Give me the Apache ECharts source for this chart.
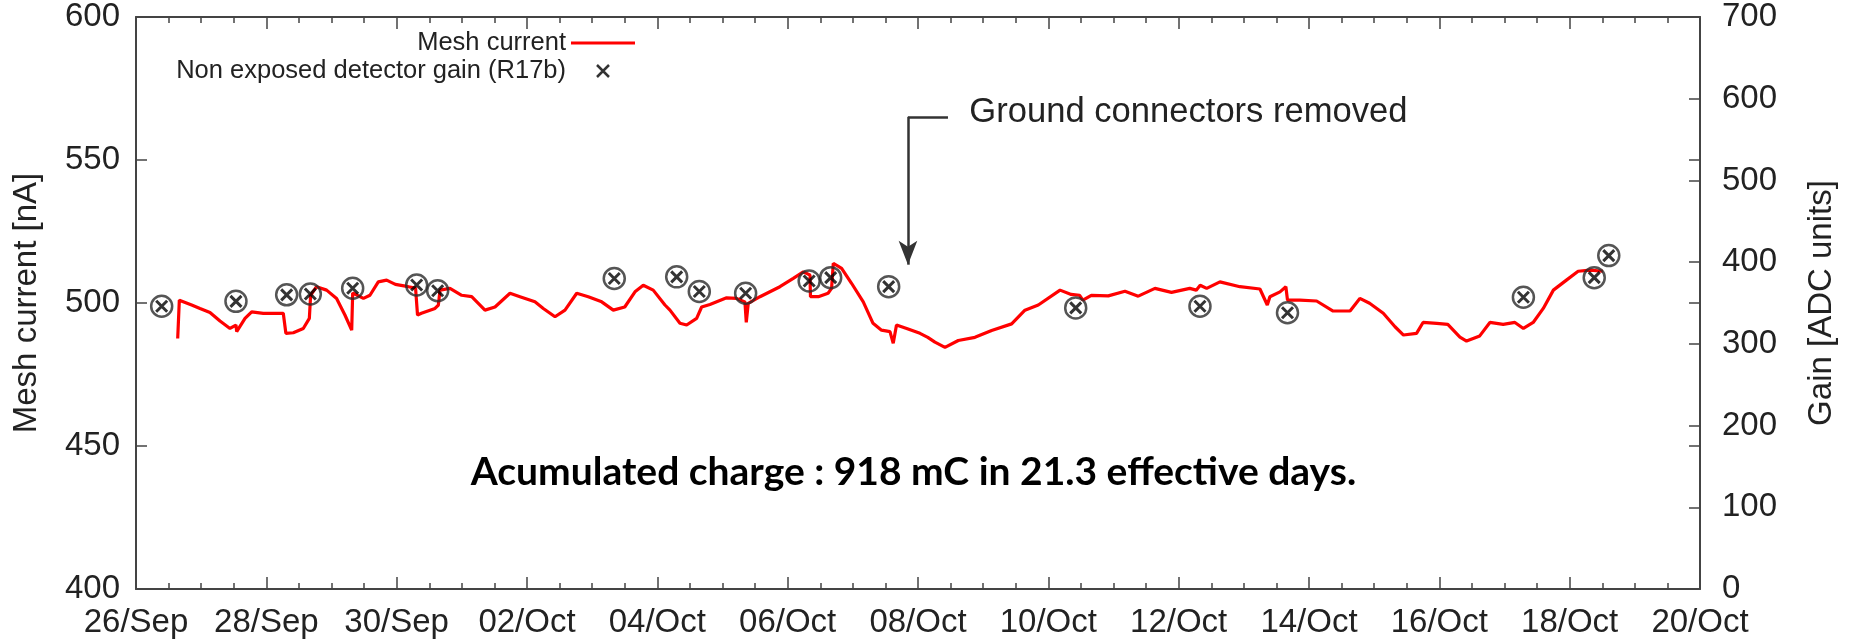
<!DOCTYPE html>
<html>
<head>
<meta charset="utf-8">
<script src="https://cdn.jsdelivr.net/npm/echarts@6/dist/echarts.min.js"></script>
<style>
  html, body { margin: 0; padding: 0; background: #fff; }
  #chart { width: 1853px; height: 642px; }
</style>
</head>
<body>
<div id="chart"></div>
<script>
// x values: days elapsed since 26/Sep 00:00
const dayTickLabels = ['26/Sep', '28/Sep', '30/Sep', '02/Oct', '04/Oct', '06/Oct', '08/Oct',
                       '10/Oct', '12/Oct', '14/Oct', '16/Oct', '18/Oct', '20/Oct'];
const dayRange = [0, 24];
const currentRange = [400, 600];
const gainRange = [0, 700];

const meshDays = [
  0.640, 0.665, 0.854, 0.982, 1.135, 1.289, 1.442, 1.534, 1.545, 1.673, 1.775, 1.953, 2.260, 2.300,
  2.414, 2.567, 2.660, 2.680, 2.770, 2.925, 3.078, 3.206, 3.310, 3.325, 3.490, 3.590, 3.718, 3.846,
  3.980, 4.178, 4.290, 4.320, 4.380, 4.588, 4.640, 4.665, 4.818, 4.998, 5.151, 5.355, 5.509, 5.739,
  5.892, 6.122, 6.250, 6.430, 6.583, 6.763, 6.940, 7.146, 7.324, 7.500, 7.657, 7.784, 7.937, 8.117,
  8.194, 8.347, 8.450, 8.603, 8.680, 8.807, 9.063, 9.216, 9.344, 9.365, 9.395, 9.575, 9.881, 10.086,
  10.240, 10.342, 10.350, 10.470, 10.620, 10.674, 10.700, 10.828, 10.980, 11.160, 11.310, 11.440,
  11.570, 11.620, 11.670, 11.826, 12.030, 12.150, 12.260, 12.414, 12.618, 12.874, 13.130, 13.437,
  13.641, 13.846, 14.180, 14.350, 14.480, 14.530, 14.660, 14.920, 15.176, 15.380, 15.636, 15.890,
  16.170, 16.270, 16.330, 16.430, 16.633, 16.940, 17.247, 17.360, 17.400, 17.555, 17.645, 17.670,
  17.860, 18.117, 18.370, 18.630, 18.780, 18.930, 19.140, 19.320, 19.450, 19.650, 19.750, 19.960,
  20.130, 20.316, 20.418, 20.620, 20.776, 20.980, 21.160, 21.290, 21.440, 21.595, 21.750, 21.950,
  22.130, 22.310, 22.510
];
const meshCurrent = [
  487.6, 501.0, 499.3, 498.1, 496.7, 493.7, 491.1, 492.3, 490.0, 494.6, 496.9, 496.4, 496.4, 489.4,
  489.6, 491.1, 494.6, 502.7, 505.7, 504.5, 501.6, 495.8, 490.5, 503.5, 501.6, 502.7, 507.4, 508.0,
  506.5, 505.7, 505.2, 495.8, 496.4, 498.1, 499.3, 504.5, 505.1, 502.7, 502.2, 497.5, 498.6, 503.4,
  502.2, 500.4, 498.1, 495.2, 497.5, 503.4, 502.2, 500.4, 497.5, 498.6, 503.9, 506.2, 504.5, 499.3,
  497.5, 492.9, 492.3, 494.6, 498.6, 499.5, 501.8, 501.6, 500.4, 493.2, 499.9, 502.2, 505.7, 508.6,
  510.9, 509.8, 502.2, 502.2, 503.4, 505.1, 513.9, 512.1, 506.9, 500.4, 492.9, 490.5,
  490.0, 485.9, 492.3, 491.1, 489.4, 488.0, 486.3, 484.5, 486.9, 488.0, 490.4, 492.7,
  497.5, 499.3, 504.5, 503.0, 502.7, 501.0, 502.7, 502.5, 504.1, 502.4, 505.1, 503.7,
  505.1, 504.5, 506.2, 505.1, 507.4, 505.7, 504.9, 499.3, 502.2, 503.9, 505.7, 501.0,
  501.0, 500.7, 497.2, 497.2, 501.6, 499.9, 496.4, 491.7, 488.8, 489.4, 493.2, 492.9,
  492.5, 488.1, 486.7, 488.5, 493.2, 492.5, 493.2, 491.1, 493.2, 498.1, 504.5, 508.0,
  511.1, 511.5, 511.1
];

const gainDays = [0.394, 1.534, 2.312, 2.675, 3.325, 4.307, 4.629, 7.339, 8.297, 8.644,
                  9.355, 10.33, 10.66, 11.55, 14.42, 16.327, 17.67, 21.29, 22.377, 22.6];
const gainValues = [346, 352, 360, 361, 368, 372, 365, 380, 382, 364,
                    362, 377, 381, 370, 344, 346, 338, 357, 381, 408];

// annotations (in data coordinates)
const arrowPath = [[12.46, 565.1], [11.846, 565.1], [11.846, 513.4]];
const arrowText = 'Ground connectors removed';
const arrowTextAt = [12.78, 566.6];
const chargeText = 'Acumulated charge : 918 mC in 21.3 effective days.';
const chargeTextAt = [11.93, 440.6];

const AX = '#444';
const TXT = '#222';
const FONT = 'Liberation Sans';

const meshData = meshDays.map((d, i) => [d, meshCurrent[i]]);
const gainData = gainDays.map((d, i) => [d, gainValues[i]]);

const tickStyle = { color: AX, width: 1.5 };
const xBase = {
  type: 'value', min: dayRange[0], max: dayRange[1], interval: 2,
  axisLine: { show: true, onZero: false, lineStyle: { color: AX, width: 2 } },
  axisTick: { show: true, inside: true, length: 12, lineStyle: tickStyle },
  minorTick: { show: true, splitNumber: 4, length: 6, lineStyle: tickStyle },
  splitLine: { show: false }, minorSplitLine: { show: false }
};
const yLabel = { fontSize: 33, fontFamily: FONT, color: TXT, padding: [12, 0, 0, 0] };

const chart = echarts.init(document.getElementById('chart'), null, { renderer: 'canvas' });
chart.setOption({
  animation: false,
  backgroundColor: '#fff',
  grid: { left: 136, top: 17, width: 1564, height: 572, containLabel: false, outerBoundsMode: 'none' },
  legend: {
    orient: 'vertical', align: 'right', right: 1218, top: 30, padding: 0, itemGap: 2,
    itemWidth: 64, itemHeight: 12, selectedMode: false,
    textStyle: { fontSize: 25.5, fontFamily: FONT, color: TXT },
    data: [
      { name: 'Mesh current', icon: 'path://M0,0L64,0L64,3L0,3Z',
        itemStyle: { color: '#ff0000', borderWidth: 0 } },
      { name: 'Non exposed detector gain (R17b)', icon: 'path://M0,0L10,10M10,0L0,10',
        itemStyle: { color: 'transparent', borderColor: '#000', borderWidth: 2.5 } }
    ]
  },
  xAxis: [
    Object.assign({}, xBase, {
      position: 'bottom',
      axisLabel: {
        formatter: v => dayTickLabels[Math.round(v / 2)],
        fontSize: 33, fontFamily: FONT, color: TXT, margin: 17
      }
    }),
    Object.assign({}, xBase, { position: 'top', axisLabel: { show: false } })
  ],
  yAxis: [
    {
      type: 'value', min: currentRange[0], max: currentRange[1], interval: 50, position: 'left',
      name: 'Mesh current [nA]', nameLocation: 'middle', nameGap: 93,
      nameTextStyle: { fontSize: 33, fontFamily: FONT, color: TXT },
      axisLine: { show: true, onZero: false, lineStyle: { color: AX, width: 2 } },
      axisTick: { show: true, inside: true, length: 11, lineStyle: tickStyle },
      axisLabel: Object.assign({ margin: 16 }, yLabel),
      splitLine: { show: false }
    },
    {
      type: 'value', min: gainRange[0], max: gainRange[1], interval: 100, position: 'right',
      name: 'Gain [ADC units]', nameLocation: 'middle', nameGap: 105,
      nameTextStyle: { fontSize: 33, fontFamily: FONT, color: TXT },
      axisLine: { show: true, onZero: false, lineStyle: { color: AX, width: 2 } },
      axisTick: { show: true, inside: true, length: 11, lineStyle: tickStyle },
      axisLabel: Object.assign({ margin: 22 }, yLabel),
      splitLine: { show: false }
    },
    {
      type: 'value', min: currentRange[0], max: currentRange[1], interval: 50, position: 'right',
      axisLine: { show: false, onZero: false },
      axisTick: { show: true, inside: true, length: 11, lineStyle: tickStyle },
      axisLabel: { show: false },
      splitLine: { show: false }
    }
  ],
  series: [
    {
      name: 'Mesh current', type: 'line', xAxisIndex: 0, yAxisIndex: 0,
      data: meshData, showSymbol: false, symbol: 'none',
      lineStyle: { color: '#ff0000', width: 3.2 }, itemStyle: { color: '#ff0000' },
      z: 2, silent: true,
      markLine: {
        silent: true, animation: false,
        lineStyle: { color: '#333', width: 2.5, type: 'solid' },
        label: { show: false },
        symbolSize: [14, 24],
        data: [
          [{ coord: arrowPath[0], symbol: 'none' }, { coord: arrowPath[1], symbol: 'none' }],
          [{ coord: arrowPath[1], symbol: 'none' }, { coord: arrowPath[2], symbol: 'arrow' }]
        ]
      },
      markPoint: {
        silent: true, animation: false,
        data: [
          { coord: arrowTextAt, symbol: 'rect', symbolSize: 1, itemStyle: { color: 'transparent' },
            label: { show: true, position: 'right', distance: 0, formatter: arrowText,
                     fontSize: 34.6, fontFamily: FONT, color: TXT } },
          { coord: chargeTextAt, symbol: 'rect', symbolSize: 1, itemStyle: { color: 'transparent' },
            label: { show: true, position: 'inside', formatter: chargeText,
                     fontSize: 39, fontFamily: 'Lato', fontWeight: 'bold', color: '#000' } }
        ]
      }
    },
    {
      name: 'gain circles', type: 'scatter', xAxisIndex: 0, yAxisIndex: 1,
      data: gainData, symbol: 'circle', symbolSize: 21, silent: true, z: 3,
      itemStyle: { color: 'transparent', borderColor: '#2a2a2a', borderWidth: 2.5 }
    },
    {
      name: 'Non exposed detector gain (R17b)', type: 'scatter', xAxisIndex: 0, yAxisIndex: 1,
      data: gainData, symbol: 'path://M0,0L10,10M10,0L0,10', symbolSize: 11, silent: true, z: 4,
      itemStyle: { color: 'transparent', borderColor: '#000', borderWidth: 3 }
    }
  ]
});
</script>
</body>
</html>
